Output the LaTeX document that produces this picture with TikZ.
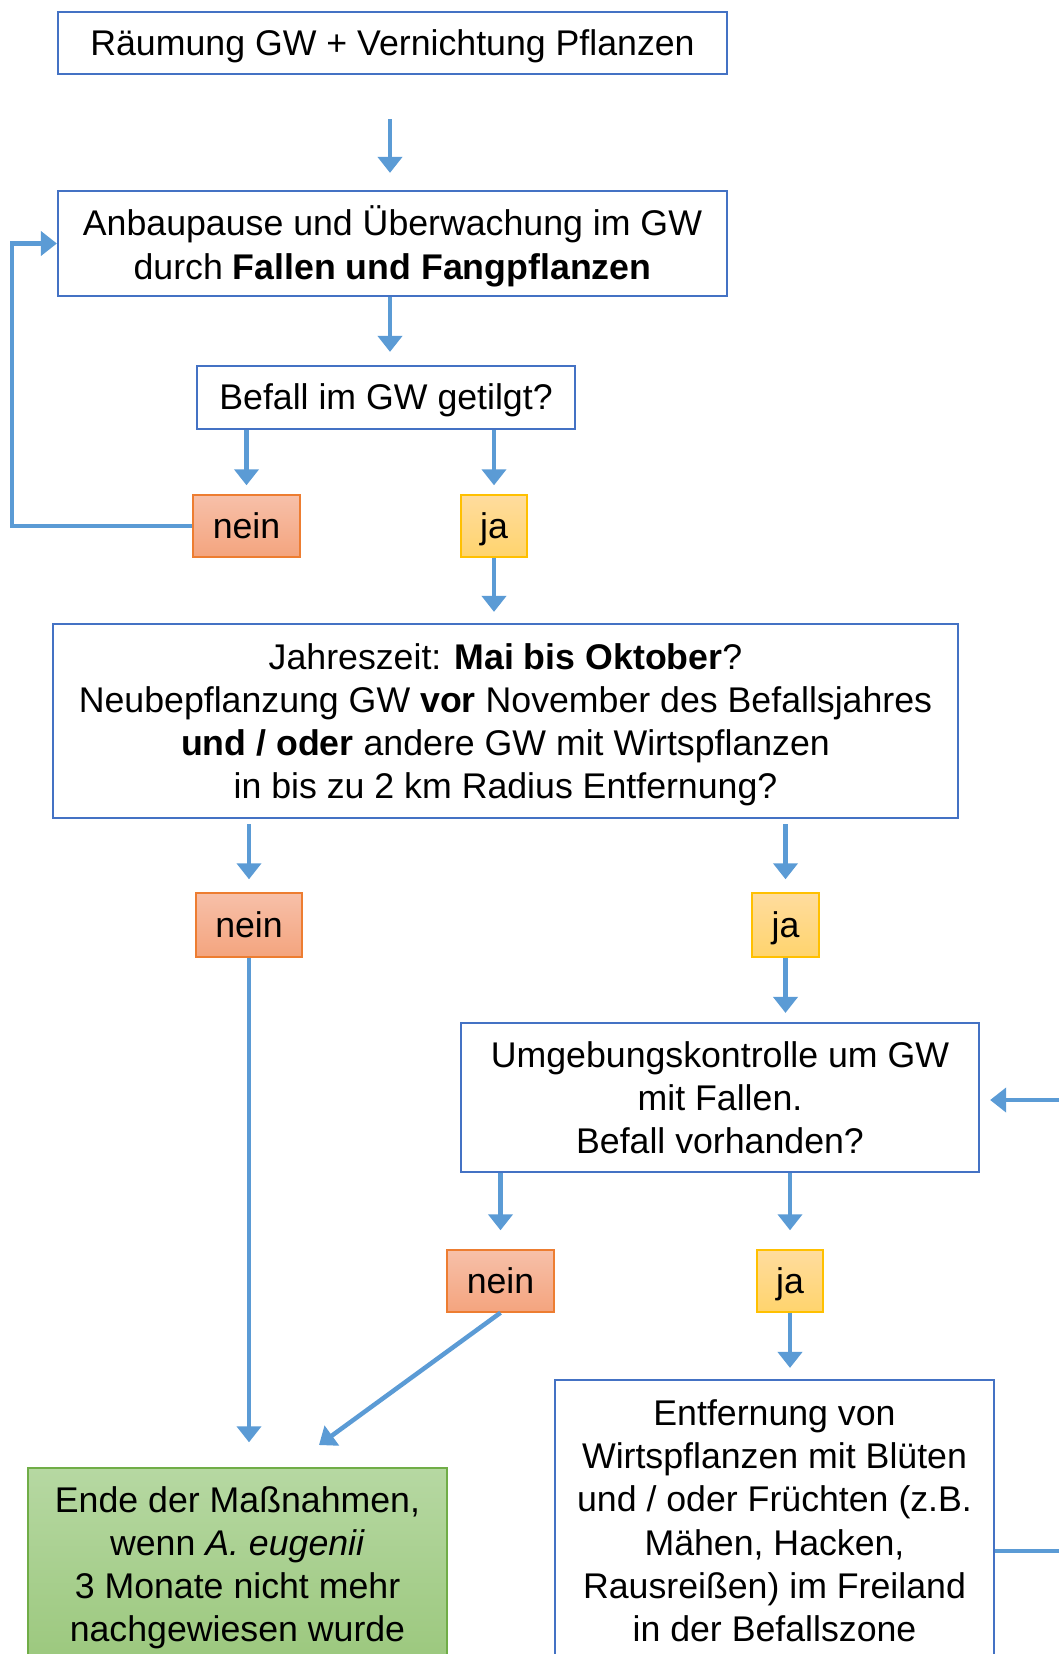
\documentclass[tikz,border=0pt]{standalone}
\usepackage{fontspec}
\setmainfont{Liberation Sans}
\usetikzlibrary{arrows.meta,calc}
\definecolor{bordblue}{HTML}{4472C4}
\definecolor{arrblue}{HTML}{5B9BD5}
\definecolor{neintop}{HTML}{F7C0A9}
\definecolor{neinbot}{HTML}{F4A47E}
\definecolor{neinbord}{HTML}{ED7D31}
\definecolor{jatop}{HTML}{FFDC9E}
\definecolor{jabot}{HTML}{FFD46D}
\definecolor{jabord}{HTML}{FFC000}
\definecolor{grtop}{HTML}{B6D8A2}
\definecolor{grbot}{HTML}{9CC87E}
\definecolor{grbord}{HTML}{70AD47}
\newcommand\firstln[1][33.5pt]{\rule{0pt}{#1}}
\begin{document}
\begin{tikzpicture}[x=1pt,y=-1pt,
  every node/.style={font=\fontsize{35.7}{43.3}\selectfont, inner sep=0pt, align=center,
    execute at begin node={\rule{0pt}{0.905em}},
    execute at end node={\rule[-0.212em]{0pt}{0.212em}}},
  box/.style={draw=bordblue, line width=2.2pt, fill=white, rectangle},
  neinbox/.style={draw=neinbord, line width=1.4pt, top color=neintop, bottom color=neinbot, rectangle},
  jabox/.style={draw=jabord, line width=1.4pt, top color=jatop, bottom color=jabot, rectangle},
  greenbox/.style={draw=grbord, line width=1.4pt, top color=grtop, bottom color=grbot, rectangle},
  arr/.style={draw=arrblue, line width=4.5pt, -{Triangle[width=24pt,length=16pt]}},
  plain/.style={draw=arrblue, line width=4.5pt},
]
\useasboundingbox (0,0) rectangle (1059,1654);
\clip (0,0) rectangle (1059,1654);

\node[box, minimum width=669pt, minimum height=62pt] (b1) at (392.5,43) {Räumung GW + Vernichtung Pflanzen};
\node[box, minimum width=669pt, minimum height=105pt] (b2) at (392.5,243.5) {\firstln[35.5pt]Anbaupause und Überwachung im GW\\durch \textbf{Fallen und Fangpflanzen}};
\node[box, minimum width=378pt, minimum height=63pt] (b3) at (386,397.5) {Befall im GW getilgt?};
\node[neinbox, minimum width=107pt, minimum height=62pt] (n1) at (246.5,526) {nein};
\node[jabox, minimum width=66pt, minimum height=62pt] (j1) at (494,526) {ja};
\node[box, minimum width=905pt, minimum height=194pt] (b4) at (505.5,721) {\firstln Jahreszeit: \textbf{Mai bis Oktober}?\\Neubepflanzung GW \textbf{vor} November des Befallsjahres\\\textbf{und / oder} andere GW mit Wirtspflanzen\\in bis zu 2 km Radius Entfernung?};
\node[neinbox, minimum width=106pt, minimum height=64pt] (n2) at (249,925) {nein};
\node[jabox, minimum width=67pt, minimum height=64pt] (j2) at (785.5,925) {ja};
\node[box, minimum width=518pt, minimum height=149pt] (b5) at (720,1097.5) {\firstln Umgebungskontrolle um GW\\mit Fallen.\\Befall vorhanden?};
\node[neinbox, minimum width=107pt, minimum height=62pt] (n3) at (500.5,1281) {nein};
\node[jabox, minimum width=66pt, minimum height=62pt] (j3) at (790,1281) {ja};
\node[greenbox, minimum width=419pt, minimum height=192pt] (b6) at (237.5,1564) {\firstln Ende der Maßnahmen,\\wenn \textit{A. eugenii}\\3 Monate nicht mehr\\nachgewiesen wurde};
\node[box, minimum width=439pt, minimum height=281pt] (b7) at (774.5,1520.5) {\firstln Entfernung von\\Wirtspflanzen mit Blüten\\und / oder Früchten (z.B.\\Mähen, Hacken,\\Rausreißen) im Freiland\\in der Befallszone};

\coordinate (lx) at (12,400);
\coordinate (d6) at (319,1445);
\coordinate (rin) at (1070,1100);
\coordinate (rout) at (1070,1551);

\draw[arr, shorten <=44pt, shorten >=17pt] (b1.south -| 390,0) -- (b2.north -| 390,0);
\draw[arr, shorten >=13pt] (b2.south -| 390,0) -- (b3.north -| 390,0);
\draw[arr, shorten >=9pt] (n1 |- b3.south) -- (n1.north);
\draw[arr, shorten >=9pt] (j1 |- b3.south) -- (j1.north);
\draw[arr] (n1.west) -| (lx) |- (b2.west);
\draw[arr, shorten >=11pt] (j1.south) -- (j1 |- b4.north);
\draw[arr, shorten <=5pt, shorten >=13pt] (n2 |- b4.south) -- (n2.north);
\draw[arr, shorten <=5pt, shorten >=13pt] (j2 |- b4.south) -- (j2.north);
\draw[arr, shorten >=9pt] (j2.south) -- (j2 |- b5.north);
\draw[arr, shorten >=25pt] (n2.south) -- (n2 |- b6.north);
\draw[arr, shorten >=19pt] (n3 |- b5.south) -- (n3.north);
\draw[arr, shorten >=19pt] (j3 |- b5.south) -- (j3.north);
\draw[arr] (n3.south) -- (d6);
\draw[arr, shorten >=11pt] (j3.south) -- (j3 |- b7.north);
\draw[arr, shorten >=10pt] (rin) -- (b5.east |- rin);
\draw[plain] (b7.east |- rout) -- (rout);
\end{tikzpicture}
\end{document}
